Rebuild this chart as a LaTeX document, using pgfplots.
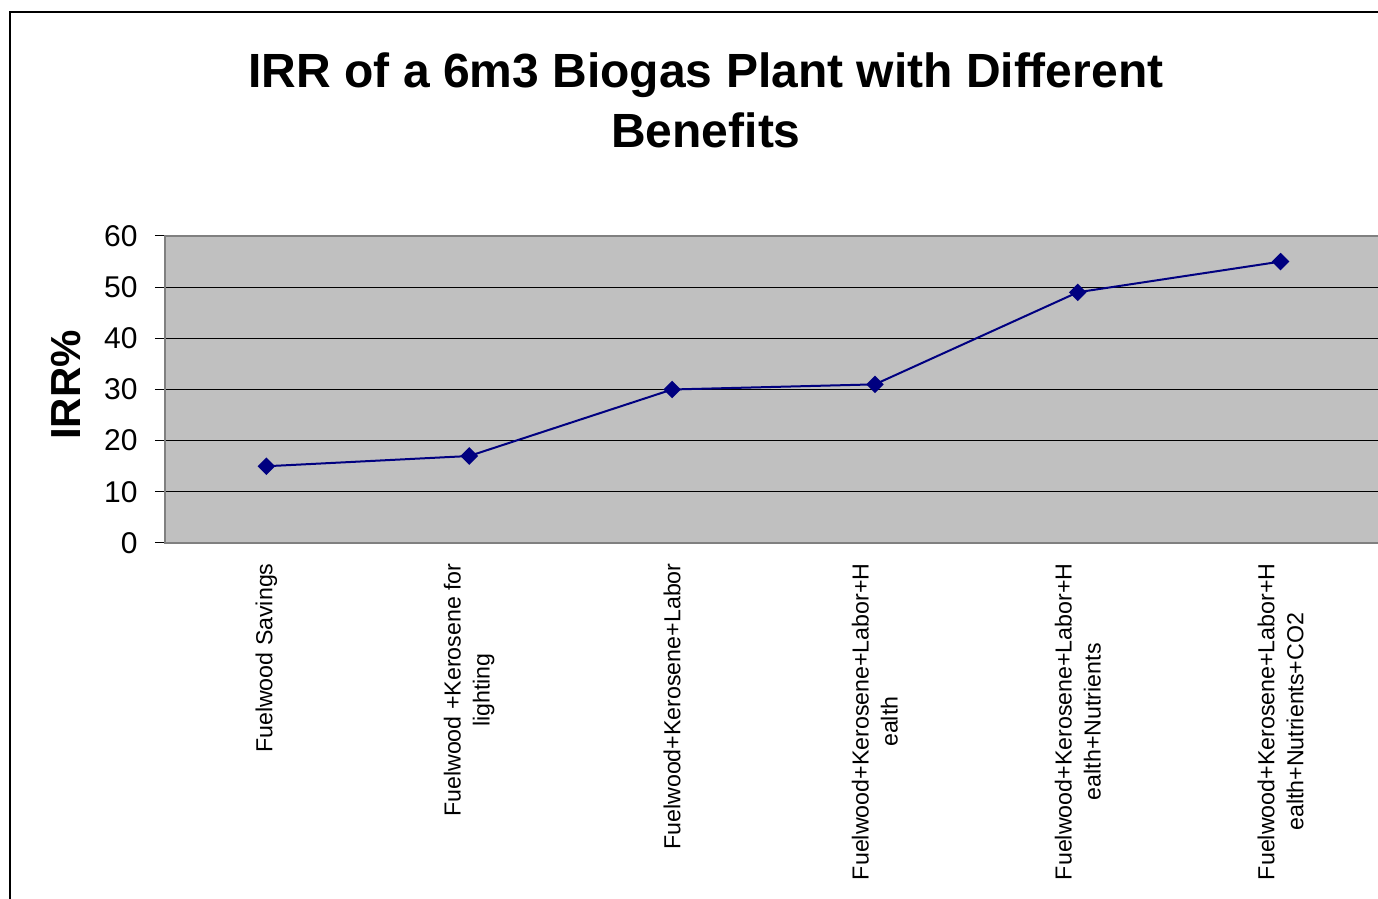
\documentclass[border=0pt]{standalone}
\usepackage{pgfplots}
\pgfplotsset{compat=1.18}
\usepackage{fontspec}
\setmainfont{Liberation Sans}
\definecolor{plotgray}{HTML}{C0C0C0}
\definecolor{framegray}{HTML}{808080}
\definecolor{navyline}{HTML}{000080}
\begin{document}
\begin{tikzpicture}
\useasboundingbox (0pt,0pt) rectangle (689pt,449.5pt);
\clip (0pt,0pt) rectangle (689pt,449.5pt);
\fill[white] (0pt,0pt) rectangle (689pt,449.5pt);
\draw[black, line width=0.8pt] (5pt,-5pt) -- (5pt,443.5pt) -- (700pt,443.5pt);
\node[anchor=base, font=\bfseries\fontsize{24}{29}\selectfont] at (353pt,405.5pt) {IRR of a 6m3 Biogas Plant with Different};
\node[anchor=base, font=\bfseries\fontsize{24}{29}\selectfont] at (353pt,375.5pt) {Benefits};
\node[anchor=base, rotate=90, font=\bfseries\fontsize{21}{25}\selectfont] at (40pt,257pt) {IRR\%};
\begin{axis}[
  at={(82.5pt,178pt)}, anchor=south west,
  scale only axis, width=608.5pt, height=153.5pt,
  xmin=-0.5, xmax=5.5, ymin=0, ymax=60,
  ytick={0,10,...,60},
  xtick={0,...,5},
  xticklabels={Fuelwood Savings,{Fuelwood +Kerosene for\\lighting},Fuelwood+Kerosene+Labor,{Fuelwood+Kerosene+Labor+H\\ealth},{Fuelwood+Kerosene+Labor+H\\ealth+Nutrients},{Fuelwood+Kerosene+Labor+H\\ealth+Nutrients+CO2}},
  x tick label style={rotate=90, anchor=east, align=center, font=\fontsize{11.6}{14.5}\selectfont, inner sep=0pt, xshift=-5pt},
  y tick label style={font=\fontsize{15}{18}\selectfont, anchor=east, inner sep=0pt, xshift=-8.5pt},
  /pgf/number format/assume math mode=true,
  tick align=outside,
  major x tick style={draw=none},
  y tick style={black, line width=0.5pt},
  major tick length=5pt,
  extra x ticks={-0.5,0.5,...,5.5},
  extra x tick labels={},
  extra x tick style={grid=none, major tick length=3.5pt, tick style={black, line width=0.5pt, draw=black}},
  ymajorgrids,
  grid style={black, line width=0.5pt},
  axis line style={framegray, line width=1pt},
  axis background/.style={fill=plotgray},
  clip=false,
]
\addplot[navyline, line width=1pt, mark=square*, mark size=2.6pt, mark options={rotate=45, fill=navyline, draw=navyline}]
  coordinates {(0,15) (1,17) (2,30) (3,31) (4,49) (5,55)};
\end{axis}
\end{tikzpicture}
\end{document}
